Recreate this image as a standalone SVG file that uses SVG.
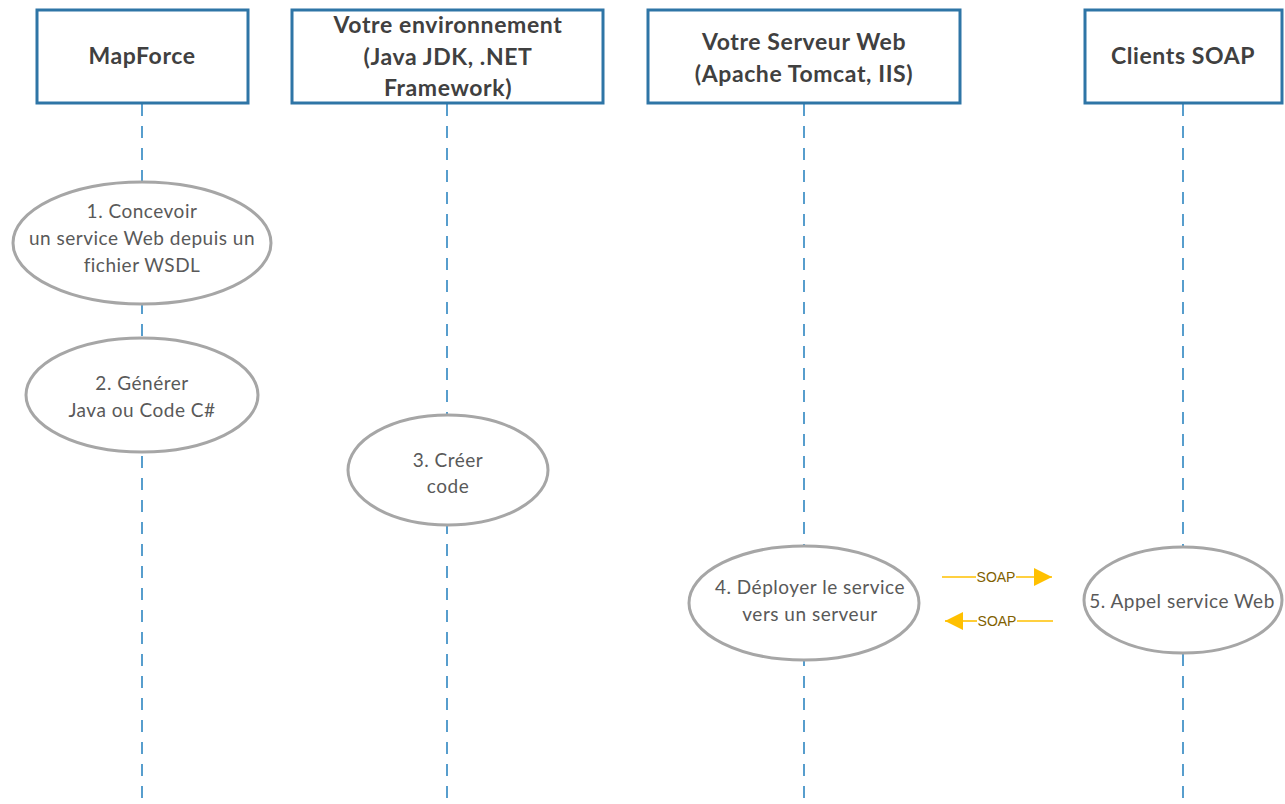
<svg xmlns="http://www.w3.org/2000/svg" width="1285" height="804" viewBox="0 0 1285 804">
<defs>
<style>
.box{fill:#fff;stroke:#2E75A6;stroke-width:3}
.life{stroke:#2E86C1;stroke-width:1.6;stroke-dasharray:12 10;fill:none}
.ell{fill:#fff;stroke:#A6A6A6;stroke-width:3}
.hd{font-family:Lato,"Liberation Sans",sans-serif;font-weight:bold;font-size:23px;letter-spacing:0.6px;fill:#404040;text-anchor:middle}
.tx{font-family:Lato,"Liberation Sans",sans-serif;font-size:19px;letter-spacing:0.5px;fill:#595959;text-anchor:middle}
.soap{stroke:#FFC000;stroke-width:1.6;fill:none}
.sl{font-family:"Liberation Sans",Arial,sans-serif;font-size:14px;fill:#7F6000;text-anchor:middle}
</style>
<marker id="ah" viewBox="0 0 10 10" refX="10" refY="5" markerWidth="18" markerHeight="18" markerUnits="userSpaceOnUse" orient="auto"><path d="M0,0 L10,5 L0,10 z" fill="#FFC000"/></marker>
</defs>
<g id="connectors">
<line class="life" x1="142" y1="104" x2="142" y2="804"/>
<line class="life" x1="447" y1="104" x2="447" y2="804"/>
<line class="life" x1="804" y1="104" x2="804" y2="804"/>
<line class="life" x1="1183" y1="104" x2="1183" y2="804"/>
<g id="soap-req">
<line class="soap" x1="942" y1="577" x2="976" y2="577"/>
<line class="soap" x1="1016" y1="577" x2="1052" y2="577" marker-end="url(#ah)"/>
<text class="sl" x="996" y="582">SOAP</text>
</g>
<g id="soap-resp">
<line class="soap" x1="977" y1="621" x2="945" y2="621" marker-end="url(#ah)"/>
<line class="soap" x1="1017" y1="621" x2="1053" y2="621"/>
<text class="sl" x="997" y="626">SOAP</text>
</g>
</g>
<g id="mapforce"><rect class="box" x="37" y="10" width="211" height="93"/><text class="hd" x="142" y="64">MapForce</text></g>
<g id="env"><rect class="box" x="292" y="10" width="311" height="93"/><text class="hd" x="448" y="33">Votre environnement</text><text class="hd" x="448" y="65">(Java JDK, .NET</text><text class="hd" x="448" y="96">Framework)</text></g>
<g id="server"><rect class="box" x="648" y="10" width="312" height="93"/><text class="hd" x="804" y="50">Votre Serveur Web</text><text class="hd" x="804" y="82">(Apache Tomcat, IIS)</text></g>
<g id="clients"><rect class="box" x="1085" y="10" width="197" height="93"/><text class="hd" x="1183" y="64">Clients SOAP</text></g>
<g id="step1"><ellipse class="ell" cx="142" cy="243" rx="129" ry="61"/><text class="tx" x="142" y="218">1. Concevoir</text><text class="tx" x="142" y="245">un service Web depuis un</text><text class="tx" x="142" y="272">fichier WSDL</text></g>
<g id="step2"><ellipse class="ell" cx="142" cy="395" rx="116" ry="57"/><text class="tx" x="142" y="390">2. Générer</text><text class="tx" x="142" y="417">Java ou Code C#</text></g>
<g id="step3"><ellipse class="ell" cx="448" cy="470" rx="100" ry="55"/><text class="tx" x="448" y="467">3. Créer</text><text class="tx" x="448" y="493">code</text></g>
<g id="step4"><ellipse class="ell" cx="804" cy="603" rx="115" ry="57"/><text class="tx" x="810" y="594">4. Déployer le service</text><text class="tx" x="810" y="621">vers un serveur</text></g>
<g id="step5"><ellipse class="ell" cx="1183" cy="600" rx="99" ry="53"/><text class="tx" x="1182" y="608">5. Appel service Web</text></g>
</svg>
